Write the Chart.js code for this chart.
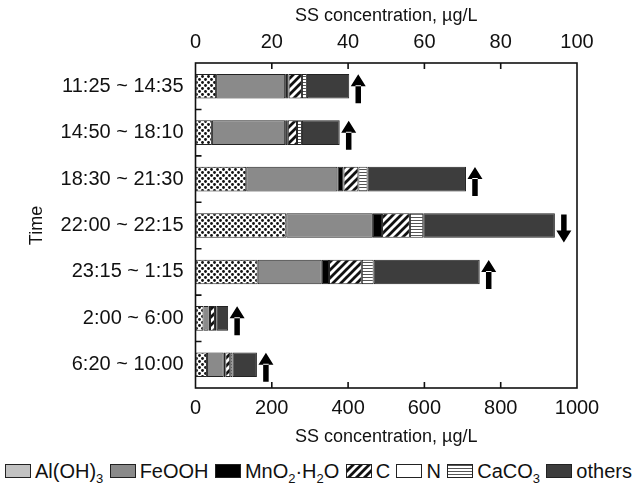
<!DOCTYPE html>
<html>
<head>
<meta charset="utf-8">
<script src="https://cdn.jsdelivr.net/npm/chart.js@4.4.1/dist/chart.umd.min.js"></script>
<style>
  body { margin: 0; background: #fff; font-family: 'Liberation Sans', Arial, sans-serif; color: #111; }
  #wrap { width: 632px; height: 498px; position: relative; }
  #legend { position: absolute; left: 0; top: 456px; width: 627px; height: 30px; padding-left: 5px;
            display: flex; justify-content: space-between; align-items: center; font-size: 20px; white-space: nowrap; }
  .item { display: flex; align-items: center; }
  .item canvas { margin-right: 4px; }
  sub { font-size: 13px; vertical-align: -5px; line-height: 0; }
</style>
</head>
<body>
<div id="wrap">
  <canvas id="c" width="632" height="452"></canvas>
  <div id="legend"></div>
</div>
<script>
// time windows, top to bottom
const categories = ['11:25 ~ 14:35', '14:50 ~ 18:10', '18:30 ~ 21:30', '22:00 ~ 22:15',
                    '23:15 ~ 1:15', '2:00 ~ 6:00', '6:20 ~ 10:00'];
// which axis each row is read on (arrow up = top axis 0-100, arrow down = bottom axis 0-1000)
const rowAxis = ['top', 'top', 'top', 'bottom', 'top', 'top', 'top'];

// SS concentration of each component, µg/L (in the units of the row's axis)
const alOH3  = [5.4, 4.3, 13.3, 238, 16.3, 2.1, 3.0];
const feOOH  = [18.1, 19.2, 23.9, 227, 16.8, 1.3, 4.4];
const mnO2   = [0.9, 0.7, 1.6, 24, 1.9, 0.4, 0.4];
const carbon = [3.5, 2.4, 3.9, 73, 8.6, 1.3, 1.3];
const nitro  = [0, 0, 0, 0, 0, 0, 0];
const caCO3  = [1.3, 1.3, 2.4, 35, 3.1, 0.45, 0.6];
const others = [11.1, 9.9, 25.8, 345, 27.8, 3.0, 6.4];

const bottomTicks = [0, 200, 400, 600, 800, 1000];
const topTicks = [0, 20, 40, 60, 80, 100];

const FONT = "'Liberation Sans', Arial, sans-serif";

// patterns
function dots(ctx) {
  const t = document.createElement('canvas'); t.width = 6; t.height = 6;
  const g = t.getContext('2d');
  g.fillStyle = '#fff'; g.fillRect(0, 0, 6, 6);
  g.fillStyle = '#111';
  [[1.5, 1.5], [4.5, 4.5]].forEach(p => { g.beginPath(); g.arc(p[0], p[1], 1.4, 0, Math.PI * 2); g.fill(); });
  return ctx.createPattern(t, 'repeat');
}
function hatch(ctx) {
  const t = document.createElement('canvas'); t.width = 8; t.height = 8;
  const g = t.getContext('2d');
  g.fillStyle = '#fff'; g.fillRect(0, 0, 8, 8);
  g.strokeStyle = '#111'; g.lineWidth = 2.8;
  g.beginPath();
  g.moveTo(-2, 10); g.lineTo(10, -2);
  g.moveTo(-6, 6); g.lineTo(6, -6);
  g.moveTo(2, 14); g.lineTo(14, 2);
  g.stroke();
  return ctx.createPattern(t, 'repeat');
}
function hlines(ctx) {
  const t = document.createElement('canvas'); t.width = 4; t.height = 3;
  const g = t.getContext('2d');
  g.fillStyle = '#fff'; g.fillRect(0, 0, 4, 3);
  g.fillStyle = '#555'; g.fillRect(0, 1, 4, 1);
  return ctx.createPattern(t, 'repeat');
}

const toBottom = (arr) => arr.map((v, i) => rowAxis[i] === 'top' ? v * 10 : v);

const ctx = document.getElementById('c').getContext('2d');
const series = [
  { label: 'Al(OH)3', data: alOH3, fill: dots(ctx), swatch: '#c2c2c2', html: 'Al(OH)<sub>3</sub>' },
  { label: 'FeOOH', data: feOOH, fill: '#8a8a8a', swatch: '#8a8a8a', html: 'FeOOH' },
  { label: 'MnO2·H2O', data: mnO2, fill: '#000', swatch: '#000', html: 'MnO<sub>2</sub>·H<sub>2</sub>O' },
  { label: 'C', data: carbon, fill: hatch(ctx), swatch: 'hatch', html: 'C' },
  { label: 'N', data: nitro, fill: '#fff', swatch: '#fff', html: 'N' },
  { label: 'CaCO3', data: caCO3, fill: hlines(ctx), swatch: 'hlines', html: 'CaCO<sub>3</sub>' },
  { label: 'others', data: others, fill: '#3d3d3d', swatch: '#3d3d3d', html: 'others' }
];

function drawArrow(c, x, y, up) {
  c.fillStyle = '#000';
  c.beginPath();
  if (up) {
    c.rect(x - 2.75, y - 2, 5.5, 18);
    c.moveTo(x - 7.5, y - 1); c.lineTo(x + 7.5, y - 1); c.lineTo(x, y - 13); c.closePath();
  } else {
    c.rect(x - 2.75, y - 12, 5.5, 17);
    c.moveTo(x - 7.5, y + 4); c.lineTo(x + 7.5, y + 4); c.lineTo(x, y + 16); c.closePath();
  }
  c.fill();
}

const frame = {
  id: 'frame',
  afterDatasetsDraw(chart) {
    const { ctx: c, chartArea: a, scales } = chart;
    c.save();
    c.strokeStyle = '#111';
    c.lineWidth = 1.6;
    c.strokeRect(a.left, a.top, a.right - a.left, a.bottom - a.top);
    c.beginPath();
    bottomTicks.slice(1, -1).forEach(v => {
      const px = scales.x.getPixelForValue(v);
      c.moveTo(px, a.bottom); c.lineTo(px, a.bottom - 6);
    });
    topTicks.slice(1, -1).forEach(v => {
      const px = scales.x2.getPixelForValue(v);
      c.moveTo(px, a.top); c.lineTo(px, a.top + 6);
    });
    for (let i = 1; i < categories.length; i++) {
      const py = (scales.y.getPixelForValue(i - 1) + scales.y.getPixelForValue(i)) / 2;
      c.moveTo(a.left, py); c.lineTo(a.left + 6, py);
    }
    c.stroke();
    const last = chart.getDatasetMeta(chart.data.datasets.length - 1);
    last.data.forEach((bar, i) => drawArrow(c, bar.x + 9, bar.y + 1, rowAxis[i] === 'top'));
    c.restore();
  }
};

new Chart(ctx, {
  type: 'bar',
  data: {
    labels: categories,
    datasets: series.map(s => ({
      label: s.label,
      data: toBottom(s.data),
      backgroundColor: s.fill,
      borderColor: '#222',
      borderWidth: 1,
      borderSkipped: false,
      barPercentage: 0.53,
      categoryPercentage: 1
    }))
  },
  options: {
    indexAxis: 'y',
    responsive: false,
    animation: false,
    layout: { padding: { left: 0, right: 55, top: 0, bottom: 0 } },
    plugins: { legend: { display: false }, tooltip: { enabled: false } },
    scales: {
      x: {
        type: 'linear', position: 'bottom', stacked: true, min: 0, max: 1000,
        afterBuildTicks: s => { s.ticks = bottomTicks.map(v => ({ value: v })); },
        afterFit: s => { s.height = 64; },
        grid: { display: false, drawTicks: false }, border: { display: false },
        ticks: { padding: 8, color: '#111', font: { family: FONT, size: 20 }, callback: v => String(v) },
        title: { display: true, text: 'SS concentration, µg/L', color: '#111',
                 font: { family: FONT, size: 18 }, padding: { top: 0, bottom: 4 } }
      },
      x2: {
        type: 'linear', position: 'top', min: 0, max: 100,
        afterBuildTicks: s => { s.ticks = topTicks.map(v => ({ value: v })); },
        afterFit: s => { s.height = 63; },
        grid: { display: false, drawTicks: false }, border: { display: false },
        ticks: { padding: 9, color: '#111', font: { family: FONT, size: 20 }, callback: v => String(v) },
        title: { display: true, text: 'SS concentration, µg/L', color: '#111',
                 font: { family: FONT, size: 18 }, padding: { top: 5, bottom: 0 } }
      },
      y: {
        type: 'category', stacked: true, offset: true,
        afterFit: s => { s.width = 195.5; },
        grid: { display: false, drawTicks: false }, border: { display: false },
        ticks: { padding: 12, color: '#111', font: { family: FONT, size: 20 } },
        title: { display: true, text: 'Time', color: '#111',
                 font: { family: FONT, size: 18 }, padding: { top: 26, bottom: 0 } }
      }
    }
  },
  plugins: [frame]
});

// legend with real subscripts
const legend = document.getElementById('legend');
series.forEach(s => {
  const item = document.createElement('div');
  item.className = 'item';
  const sw = document.createElement('canvas');
  sw.width = 26; sw.height = 14;
  const g = sw.getContext('2d');
  g.fillStyle = s.swatch === 'hatch' ? hatch(g) : s.swatch === 'hlines' ? hlines(g) : s.swatch;
  g.fillRect(0.5, 0.5, 25, 13);
  g.strokeStyle = '#222'; g.lineWidth = 1;
  g.strokeRect(0.5, 0.5, 25, 13);
  const txt = document.createElement('span');
  txt.innerHTML = s.html;
  item.appendChild(sw);
  item.appendChild(txt);
  legend.appendChild(item);
});
</script>
</body>
</html>
